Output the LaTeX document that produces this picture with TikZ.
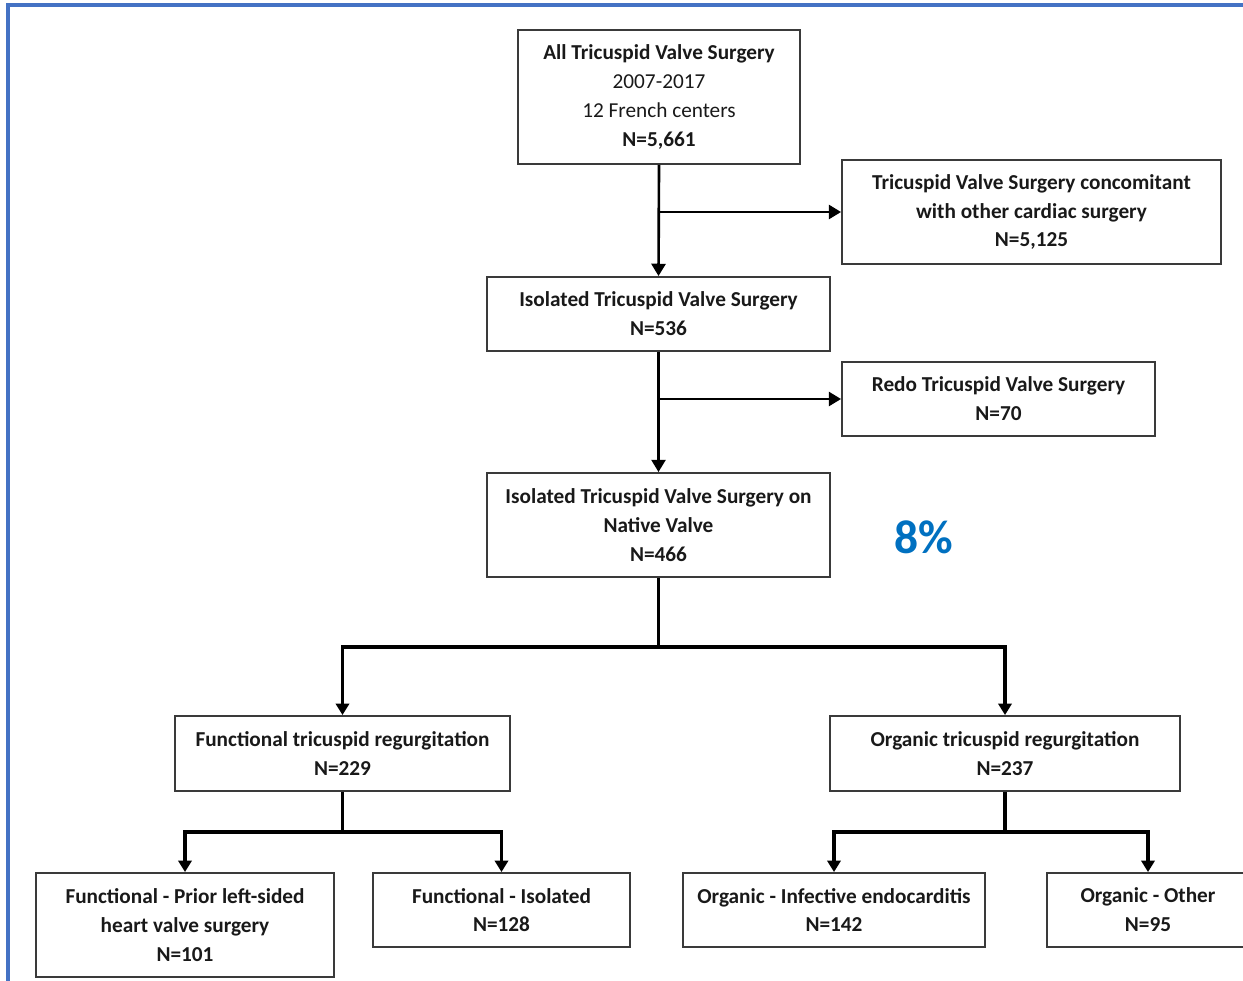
\documentclass[tikz,border=0pt]{standalone}
\usepackage{fontspec}
\setmainfont{Carlito}
\usetikzlibrary{arrows.meta}
\definecolor{framebl}{HTML}{4472C4}
\definecolor{pctbl}{HTML}{0070C0}
\definecolor{boxgr}{HTML}{3A3A3A}
\begin{document}
\begin{tikzpicture}[x=0.02cm, y=-0.02cm,
  box/.style={draw=boxgr, line width=1.1pt, inner sep=0pt, align=center,
    font=\fontsize{12.1}{16.4}\selectfont\bfseries, text=black!90},
  link/.style={line width=1.5pt, black},
  arr/.style={link, -{Triangle[length=7pt, width=8pt]}},
  thicklink/.style={line width=2.2pt, black},
  thickarr/.style={thicklink, -{Triangle[length=6.5pt, width=7.5pt]}}]

\useasboundingbox (0,0) rectangle (1243,980);
\draw [framebl, line width=1.8pt] (8,5) rectangle (1265,1000);

% boxes
\node [box, minimum width=5.64cm, minimum height=2.68cm] (all) at (659,97)
  {All Tricuspid Valve Surgery\\ {\mdseries 2007-2017}\\ {\mdseries 12 French centers}\\ N=5,661};
\node [box, minimum width=7.58cm, minimum height=2.08cm] (conc) at (1031.5,212)
  {Tricuspid Valve Surgery concomitant\\ with other cardiac surgery\\ N=5,125};
\node [box, minimum width=6.86cm, minimum height=1.48cm] (iso) at (658.5,314)
  {Isolated Tricuspid Valve Surgery\\ N=536};
\node [box, minimum width=6.26cm, minimum height=1.48cm] (redo) at (998.5,399)
  {Redo Tricuspid Valve Surgery\\ N=70};
\node [box, minimum width=6.86cm, minimum height=2.08cm] (native) at (658.5,525)
  {Isolated Tricuspid Valve Surgery on\\ Native Valve\\ N=466};
\node [font=\fontsize{27}{32}\selectfont\bfseries, text=pctbl] (pct) at (924,537) {8\%};

\node [box, minimum width=6.70cm, minimum height=1.50cm] (func) at (342.5,753.5)
  {Functional tricuspid regurgitation\\ N=229};
\node [box, minimum width=7.00cm, minimum height=1.50cm] (org) at (1005,753.5)
  {Organic tricuspid regurgitation\\ N=237};

\node [box, minimum width=5.96cm, minimum height=2.08cm] (prior) at (185,925)
  {Functional - Prior left-sided\\ heart valve surgery\\ N=101};
\node [box, minimum width=5.14cm, minimum height=1.48cm] (fiso) at (501.5,910)
  {Functional - Isolated\\ N=128};
\node [box, minimum width=6.04cm, minimum height=1.48cm] (endo) at (834,910)
  {Organic - Infective endocarditis\\ N=142};
\node [box, minimum width=4.04cm, minimum height=1.48cm] (other) at (1148,910)
  {Organic - Other\\ N=95};

% connectors
\draw [arr] (all.south) -- (iso.north);
\draw [arr] (all.south |- conc.west) -- (conc.west);
\draw [arr] (iso.south) -- (native.north);
\draw [arr] (iso.south |- redo.west) -- (redo.west);

\coordinate (split) at (658.5,647);
\draw [thicklink] (native.south) -- (split);
\draw [thickarr] (split) -| (func.north);
\draw [thickarr] (split) -| (org.north);

\coordinate (fsplit) at (342.5,832);
\draw [thicklink] (func.south) -- (fsplit);
\draw [thickarr] (fsplit) -| (prior.north);
\draw [thickarr] (fsplit) -| (fiso.north);

\coordinate (osplit) at (1005,832);
\draw [thicklink] (org.south) -- (osplit);
\draw [thickarr] (osplit) -| (endo.north);
\draw [thickarr] (osplit) -| (other.north);

\end{tikzpicture}
\end{document}
